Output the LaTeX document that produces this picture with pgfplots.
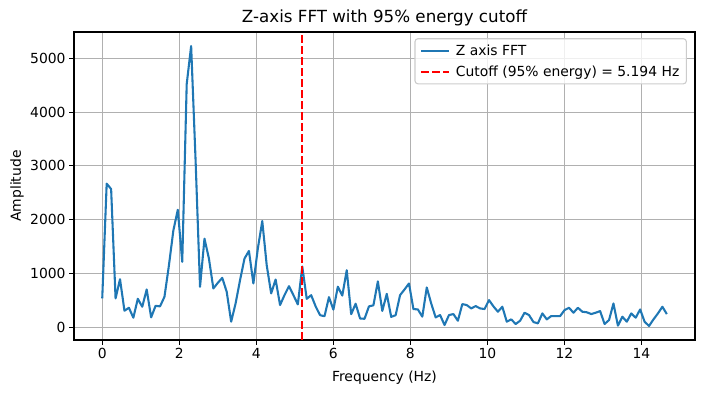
\documentclass[border=0pt]{standalone}
\usepackage{fontspec}
\setmainfont{DejaVu Sans}
\usepackage{pgfplots}
\pgfplotsset{compat=1.18}
\definecolor{tabblue}{HTML}{1F77B4}
\definecolor{gridgray}{HTML}{B0B0B0}
\begin{document}
\begin{tikzpicture}
\useasboundingbox (0pt,0pt) rectangle (704pt,393pt);
\begin{axis}[
  at={(74pt,53pt)}, anchor=south west,
  scale only axis, width=621pt, height=308pt,
  xmin=-0.733, xmax=15.39, ymin=-235, ymax=5488,
  xtick={0,2,4,6,8,10,12,14},
  ytick={0,1000,2000,3000,4000,5000},
  scaled y ticks=false,
  /pgf/number format/assume math mode=true,
  /pgf/number format/1000 sep={},
  tick label style={font=\fontsize{13.9}{16}\selectfont},
  label style={font=\fontsize{13.9}{16}\selectfont},
  title style={font=\fontsize{16.7}{19}\selectfont, at={(axis description cs:0.5,1)}, anchor=base, yshift=3pt},
  title={Z-axis FFT with 95\% energy cutoff},
  xlabel={Frequency (Hz)},
  ylabel={Amplitude},
  xlabel style={at={(axis description cs:0.5,0)}, anchor=base, yshift=-42pt},
  ylabel style={at={([xshift=-53pt]axis description cs:0,0.5)}, anchor=base, rotate=0},
  grid=major,
  major grid style={color=gridgray, line width=1.1pt},
  axis line style={line width=1.1pt, black},
  tick align=outside, tick pos=left,
  major tick length=4.9pt,
  every tick/.style={black, line width=1.1pt},
  legend cell align=left,
  legend image code/.code={\draw[#1] (0pt,0pt) -- (27.8pt,0pt);},
  legend style={at={(0.987,0.98)}, anchor=north east, draw=black!20, rounded corners=3pt,
    fill=white, fill opacity=0.8, text opacity=1, font=\fontsize{13.9}{16}\selectfont,
    inner xsep=5pt, inner ysep=4pt, row sep=5pt, column sep=4pt, line width=1.1pt},
]
\addplot[color=tabblue, line width=2.08pt, line join=round] table {
x y
0 537
0.1154 2670
0.2308 2570
0.3463 537
0.4617 895
0.5771 309
0.6925 364
0.8079 179
0.9234 531
1.0388 383
1.1542 704
1.2696 185
1.3850 400
1.5005 390
1.6159 568
1.7313 1150
1.8467 1800
1.9621 2185
2.0776 1216
2.1930 4519
2.3084 5228
2.4238 3100
2.5392 753
2.6547 1648
2.7701 1278
2.8855 722
3.0009 827
3.1163 920
3.2318 660
3.3472 105
3.4626 444
3.5780 877
3.6934 1278
3.8089 1420
3.9243 815
4.0397 1463
4.1551 1975
4.2705 1154
4.3860 630
4.5014 889
4.6168 414
4.7322 599
4.8476 765
4.9631 599
5.0785 426
5.1939 1130
5.3093 530
5.4247 598
5.5402 390
5.6556 226
5.7710 207
5.8864 561
6.0018 329
6.1173 756
6.2327 591
6.3481 1061
6.4635 244
6.5789 439
6.6944 165
6.8098 159
6.9252 390
7.0406 409
7.1560 854
7.2715 305
7.3869 622
7.5023 195
7.6177 226
7.7331 599
7.8486 704
7.9640 815
8.0794 340
8.1948 333
8.3102 198
8.4257 741
8.5411 444
8.6565 185
8.7719 228
8.8873 43
9.0028 228
9.1182 247
9.2336 123
9.3490 432
9.4644 414
9.5799 352
9.6953 395
9.8107 352
9.9261 340
10.0415 506
10.1570 390
10.2724 290
10.3878 383
10.5032 105
10.6186 148
10.7341 62
10.8495 123
10.9649 272
11.0803 228
11.1957 99
11.3112 74
11.4266 259
11.5420 148
11.6574 210
11.7728 210
11.8883 210
12.0037 321
12.1191 364
12.2345 272
12.3499 364
12.4654 290
12.5808 280
12.6962 247
12.8116 272
12.9270 302
13.0425 62
13.1579 136
13.2733 444
13.3887 31
13.5041 198
13.6196 105
13.7350 259
13.8504 179
13.9658 333
14.0812 105
14.1967 25
14.3121 148
14.4275 259
14.5429 383
14.6583 247
};
\addlegendentry{Z axis FFT}
\addplot[color=red, line width=2.08pt, dash pattern=on 7.7pt off 3.3pt] coordinates {(5.194,-235) (5.194,5488)};
\addlegendentry{Cutoff (95\% energy) = 5.194 Hz}
\end{axis}
\end{tikzpicture}
\end{document}
